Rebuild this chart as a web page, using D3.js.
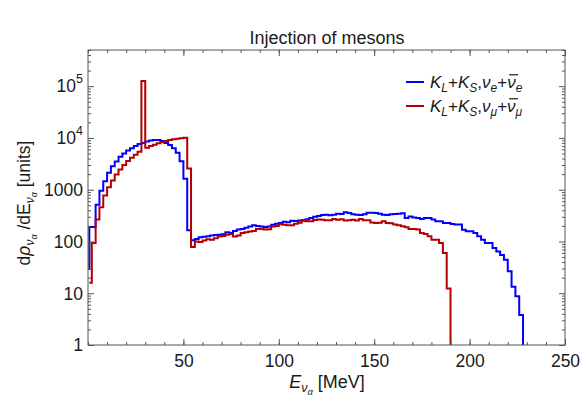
<!DOCTYPE html>
<html><head><meta charset="utf-8">
<script src="https://cdn.jsdelivr.net/npm/d3@7/dist/d3.min.js"></script>
<style>
body{margin:0;background:#fff}
svg text{font-family:"Liberation Sans",Arial,sans-serif;fill:#1a1a1a}
</style>
</head><body>
<svg id="chart" width="583" height="402"></svg>
<script>
// ---------------- data ----------------
const title = "Injection of mesons";
const binWidth = 2;            // MeV, histogram bins start at 0
const startEnergy = 0.7;       // MeV where the step lines begin
const blueStart = 28;          // value at the very first point
const redStart = 16;
// K_L + K_S, nu_e + nubar_e   (bins [0,2],[2,4],...,[226,228])
const blueValues = [190,190,515,960,1460,2130,2850,3520,4340,5020,5750,6340,6970,7600,7950,
  8500,8900,9100,9100,8700,8000,7300,6300,5190,3550,1620,164,106,112,120,
  124,126,130,133,135,138,150,145,160,170,175,185,195,205,200,
  195,190,195,210,220,228,240,235,250,248,255,250,270,285,300,
  310,325,330,320,330,345,340,365,355,335,330,325,335,360,360,
  355,345,330,325,335,340,345,350,285,305,290,285,273,285,285,
  265,246,246,228,228,218,212,212,169,157,157,146,126,108,93,
  93,75,64,55,44.5,26.5,13.4,8.7,3.8];
// K_L + K_S, nu_mu + nubar_mu (bins [0,2],...,[188,190])
const redValues = [16,93,265,458,770,1120,1510,1960,2450,2985,3570,4150,4740,5400,126000,
  6470,6970,7400,7860,8330,8700,9100,9400,9680,9850,10100,2570,78,100,98,
  105,110,108,115,125,128,135,140,125,130,145,150,155,160,175,
  175,170,172,195,200,215,210,205,205,220,230,260,246,246,260,
  265,262,257,257,272,262,268,255,258,262,255,272,257,257,232,
  228,230,245,228,226,212,205,196,188,175,175,170,146,139,126,
  108,108,93,60,12.4];
const xTicks = [50,100,150,200,250];
const xMinorTicks = d3.range(0, 251, 10);
const yTicks = [1,10,100,1000,1e4,1e5];
const yTickLabels = ["1","10","100","1000",["10","4"],["10","5"]];
const legendLabels = [
  {color:"#0000ff", parts:[["K","it"],["L","sub"],["+",""],["K","it"],["S","sub"],[",",""],["ν","it"],["e","sub"],["+",""],["ν","bar"],["e","sub"]]},
  {color:"#b30000", parts:[["K","it"],["L","sub"],["+",""],["K","it"],["S","sub"],[",",""],["ν","it"],["μ","sub"],["+",""],["ν","bar"],["μ","sub"]]}
];
const seriesList = [
  {values: blueValues, start: blueStart, color: "#0000ff"},
  {values: redValues, start: redStart, color: "#b30000"}
];

// ---------------- layout ----------------
const svg = d3.select("#chart");
const L = 88, R = 565, T = 50, B = 345;
const x = d3.scaleLinear().domain([0, 250]).range([L, R]);
const y = d3.scaleLog().domain([1, 5e5]).range([B, T]);
const frameColor = "#555";
const tickFont = 17.5;

svg.append("defs").append("clipPath").attr("id","clip")
  .append("rect").attr("x",L).attr("y",T).attr("width",R-L).attr("height",B-T);

// series
const line = d3.line().x(d => x(d[0])).y(d => y(d[1]));
seriesList.forEach(s => {
  const pts = [[startEnergy, s.start], [startEnergy, s.values[0]]];
  s.values.forEach((v, i) => {
    if (i > 0) pts.push([i * binWidth, v]);
    pts.push([(i + 1) * binWidth, v]);
  });
  pts.push([s.values.length * binWidth, 0.5]);
  svg.append("path").attr("clip-path","url(#clip)")
    .attr("d", line(pts)).attr("fill","none")
    .attr("stroke", s.color).attr("stroke-width", 2).attr("stroke-linejoin","miter");
});

// frame
svg.append("rect").attr("x",L).attr("y",T).attr("width",R-L).attr("height",B-T)
  .attr("fill","none").attr("stroke",frameColor).attr("stroke-width",1);

// x ticks
function tickSet(g){ g.select(".domain").remove(); g.selectAll("line").attr("stroke",frameColor); }
svg.append("g").attr("transform",`translate(0,${B})`)
  .call(d3.axisBottom(x).tickValues(xMinorTicks).tickSize(-3).tickFormat("")).call(tickSet);
svg.append("g").attr("transform",`translate(0,${T})`)
  .call(d3.axisTop(x).tickValues(xMinorTicks).tickSize(-3).tickFormat("")).call(tickSet);
const xAx = svg.append("g").attr("transform",`translate(0,${B})`)
  .call(d3.axisBottom(x).tickValues(xTicks).tickSize(-6).tickPadding(10)).call(tickSet);
svg.append("g").attr("transform",`translate(0,${T})`)
  .call(d3.axisTop(x).tickValues(xTicks).tickSize(-6).tickFormat("")).call(tickSet);
xAx.selectAll("text").attr("font-size",tickFont).attr("font-family","Liberation Sans, Arial, sans-serif").attr("fill","#1a1a1a");

// y ticks (log minor)
const yMinor = [];
for (let e = 0; e <= 5; e++) for (let m = 2; m <= 9; m++) { const v = m * Math.pow(10, e); if (v <= 5e5) yMinor.push(v); }
svg.append("g").attr("transform",`translate(${L},0)`)
  .call(d3.axisLeft(y).tickValues(yMinor).tickSize(-3).tickFormat("")).call(tickSet);
svg.append("g").attr("transform",`translate(${R},0)`)
  .call(d3.axisRight(y).tickValues(yMinor).tickSize(-3).tickFormat("")).call(tickSet);
svg.append("g").attr("transform",`translate(${L},0)`)
  .call(d3.axisLeft(y).tickValues(yTicks).tickSize(-6).tickFormat("")).call(tickSet);
svg.append("g").attr("transform",`translate(${R},0)`)
  .call(d3.axisRight(y).tickValues(yTicks).tickSize(-6).tickFormat("")).call(tickSet);

// y tick labels
yTicks.forEach((v, i) => {
  const lab = yTickLabels[i];
  const t = svg.append("text").attr("x", L - 5).attr("y", y(v)).attr("dy","0.36em")
    .attr("text-anchor","end").attr("font-size",tickFont);
  if (Array.isArray(lab)) {
    t.append("tspan").text(lab[0]);
    t.append("tspan").attr("font-size",12.5).attr("dy","-0.75em").text(lab[1]);
  } else t.text(lab);
});

// title
svg.append("text").attr("x",327).attr("y",44).attr("text-anchor","middle")
  .attr("font-size",18).text(title);

// x label
const xl = svg.append("text").attr("x",327).attr("y",388).attr("text-anchor","middle").attr("font-size",18);
xl.append("tspan").attr("font-style","italic").text("E");
xl.append("tspan").attr("font-style","italic").attr("font-size",12.5).attr("dy",4).text("ν");
xl.append("tspan").attr("font-style","italic").attr("font-size",9.5).attr("dy",3).text("α");
xl.append("tspan").attr("dy",-7).text(" [MeV]");

// y label
const yl = svg.append("text").attr("transform","translate(30,203) rotate(-90)")
  .attr("text-anchor","middle").attr("font-size",17.5);
yl.append("tspan").text("d");
yl.append("tspan").attr("font-style","italic").text("ρ");
yl.append("tspan").attr("font-style","italic").attr("font-size",12).attr("dy",4).text("ν");
yl.append("tspan").attr("font-style","italic").attr("font-size",9).attr("dy",3).text("α");
yl.append("tspan").attr("dy",-7).text(" /dE");
yl.append("tspan").attr("font-style","italic").attr("font-size",12).attr("dy",4).text("ν");
yl.append("tspan").attr("font-style","italic").attr("font-size",9).attr("dy",3).text("α");
yl.append("tspan").attr("dy",-7).text("  [units]");

// legend
const legFont = 17;
legendLabels.forEach((lg, i) => {
  const yy = 82 + i * 24;
  svg.append("line").attr("x1",406).attr("x2",424).attr("y1",yy).attr("y2",yy)
    .attr("stroke",lg.color).attr("stroke-width",2);
  const base = yy + 6;
  const t = svg.append("text").attr("x",430).attr("y",base).attr("font-size",legFont);
  let shifted = false, idx = 0; const bars = [];
  lg.parts.forEach(([s, kind]) => {
    const ts = t.append("tspan").text(s);
    if (kind === "sub") { ts.attr("font-size",12).attr("font-style","italic").attr("dy", 4); shifted = true; }
    else {
      if (shifted) { ts.attr("dy", -4); shifted = false; }
      if (kind === "it" || kind === "bar") ts.attr("font-style","italic");
      if (kind === "bar") bars.push(idx);
    }
    idx += s.length;
  });
  bars.forEach(ci => {
    const r = t.node().getExtentOfChar(ci);
    const yb = base - legFont * 0.78;
    svg.append("line").attr("x1", r.x + 2).attr("x2", r.x + r.width + 2.5)
      .attr("y1", yb).attr("y2", yb).attr("stroke","#1a1a1a").attr("stroke-width",1.2);
  });
});
</script>
</body></html>
